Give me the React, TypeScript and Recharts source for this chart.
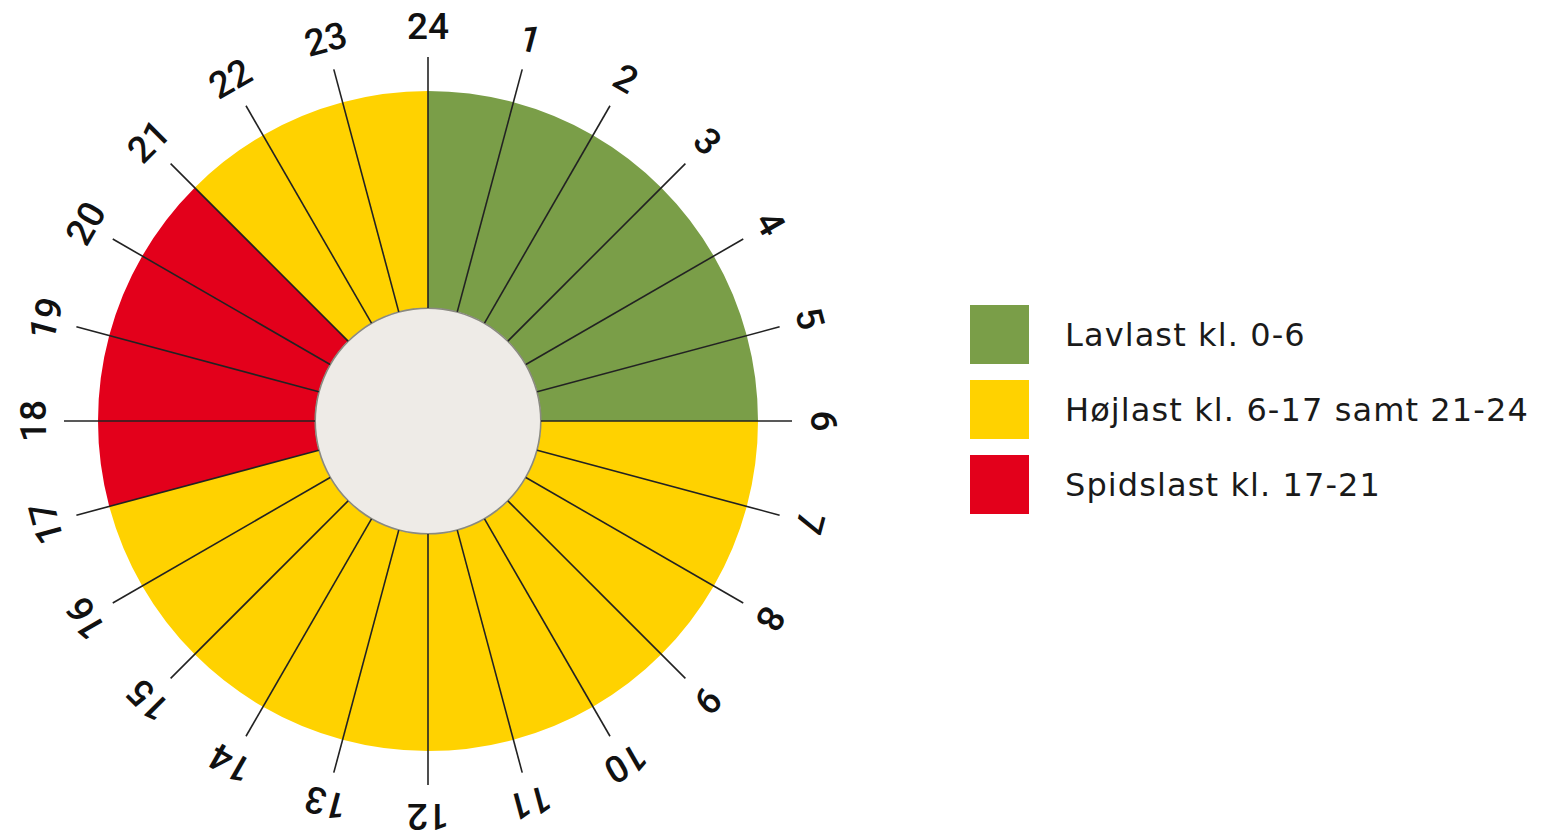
import { Legend, Pie, PieChart, Cell } from "recharts"

// hour labels around the clock, starting at the top (24) and going clockwise
const hourLabels = [
  "24", "1", "2", "3", "4", "5", "6", "7", "8", "9", "10", "11",
  "12", "13", "14", "15", "16", "17", "18", "19", "20", "21", "22", "23",
]

// load band for each hour slot 0-1, 1-2, ... 23-24
const hourBands = [
  "low", "low", "low", "low", "low", "low",
  "high", "high", "high", "high", "high", "high",
  "high", "high", "high", "high", "high",
  "peak", "peak", "peak", "peak",
  "high", "high", "high",
]

const bandColors: Record<string, string> = {
  low: "#7A9E48",
  high: "#FFD200",
  peak: "#E3001B",
}

const legendItems = [
  { band: "low", text: "Lavlast kl. 0-6" },
  { band: "high", text: "Højlast kl. 6-17 samt 21-24" },
  { band: "peak", text: "Spidslast kl. 17-21" },
]

const slotData = hourBands.map((band, i) => ({ name: `${i}-${i + 1}`, band, value: 1 }))
const tickData = hourLabels.map((label) => ({ name: label, value: 1 }))
const centerData = [{ name: "center", value: 1 }]

// recharts adds its 5px default margin to numeric cx / cy
const CX = 423
const CY = 416
const INNER = 113
const OUTER = 330
const TICK_END = 364
const LABEL_R = 395

const RAD = Math.PI / 180

function TickLabel(props: any) {
  const { cx, cy, midAngle, name } = props
  const cos = Math.cos(-midAngle * RAD)
  const sin = Math.sin(-midAngle * RAD)
  const x1 = cx + INNER * cos
  const y1 = cy + INNER * sin
  const x2 = cx + TICK_END * cos
  const y2 = cy + TICK_END * sin
  const lx = cx + LABEL_R * cos
  const ly = cy + LABEL_R * sin
  const rot = 90 - midAngle
  return (
    <g>
      <line x1={x1} y1={y1} x2={x2} y2={y2} stroke="#222" strokeWidth={1.6} />
      <text
        x={lx}
        y={ly}
        transform={`rotate(${rot} ${lx} ${ly})`}
        textAnchor="middle"
        dominantBaseline="central"
        fontFamily="Roboto, sans-serif"
        fontWeight={500}
        fontSize={37}
        fill="#111"
      >
        {name}
      </text>
    </g>
  )
}

function LegendBox() {
  return (
    <div style={{ fontFamily: "'DejaVu Sans', sans-serif" }}>
      {legendItems.map((item) => (
        <div key={item.band} style={{ display: "flex", alignItems: "center", height: 75 }}>
          <div style={{ width: 59, height: 59, background: bandColors[item.band] }} />
          <span style={{ marginLeft: 36, fontSize: 32, letterSpacing: 1.1, color: "#1a1a1a", whiteSpace: "nowrap" }}>
            {item.text}
          </span>
        </div>
      ))}
    </div>
  )
}

export default function App() {
  return (
    <div style={{ width: 1546, height: 836, margin: "-8px 0 0 -8px", background: "#fff" }}>
      <PieChart width={1546} height={836}>
        <Pie
          data={slotData}
          dataKey="value"
          cx={CX}
          cy={CY}
          startAngle={90}
          endAngle={-270}
          innerRadius={INNER}
          outerRadius={OUTER}
          stroke="none"
          isAnimationActive={false}
        >
          {slotData.map((d) => (
            <Cell key={d.name} fill={bandColors[d.band]} />
          ))}
        </Pie>
        <Pie
          data={centerData}
          dataKey="value"
          cx={CX}
          cy={CY}
          innerRadius={0}
          outerRadius={INNER}
          fill="#EEEBE7"
          stroke="none"
          isAnimationActive={false}
        />
        <Pie
          data={centerData}
          dataKey="value"
          cx={CX}
          cy={CY}
          innerRadius={INNER - 1}
          outerRadius={INNER + 0.6}
          fill="#8a8a80"
          stroke="none"
          isAnimationActive={false}
        />
        <Pie
          data={tickData}
          dataKey="value"
          cx={CX}
          cy={CY}
          startAngle={97.5}
          endAngle={-262.5}
          innerRadius={INNER}
          outerRadius={TICK_END}
          fill="none"
          stroke="none"
          labelLine={false}
          label={TickLabel}
          isAnimationActive={false}
        />
        <Legend
          content={<LegendBox />}
          wrapperStyle={{ position: "absolute", left: 970, top: 297, width: 576 }}
        />
      </PieChart>
    </div>
  )
}
